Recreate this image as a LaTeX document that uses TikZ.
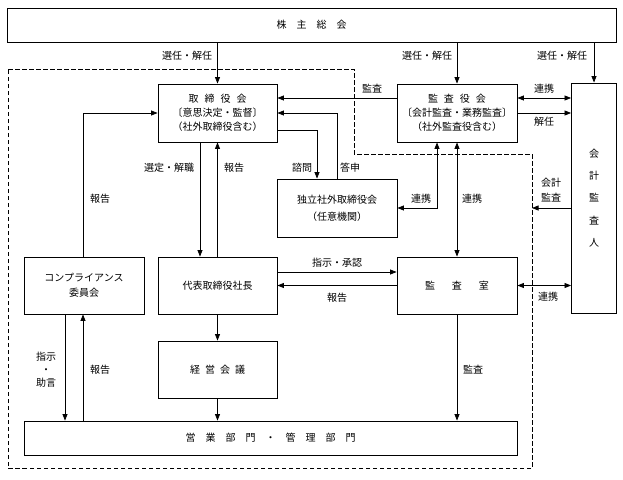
\documentclass[tikz,border=0pt]{standalone}
\usepackage{fontspec}
\setmainfont{Noto Sans CJK JP}
\usetikzlibrary{arrows.meta,calc}
\begin{document}
\begin{tikzpicture}[x=1pt,y=-1pt,
  box/.style={draw, line width=0.9pt, inner sep=0pt, align=center, minimum width=120pt, minimum height=57pt, font=\fontsize{10}{14}\selectfont},
  lbl/.style={inner sep=0pt, align=center, font=\fontsize{10}{13}\selectfont},
  tip/.tip={Triangle[length=6.5pt,width=5pt]},
  arr/.style={line width=0.75pt, -tip},
  darr/.style={line width=0.75pt, tip-tip},
  bound/.style={line width=0.8pt, dash pattern=on 4.5pt off 2.5pt}]
\useasboundingbox (0,0) rectangle (623,479);
% boxes
\node[box, minimum width=609pt, minimum height=34pt] (sh) at (311.5,25) {株\hspace{1em}主\hspace{1em}総\hspace{1em}会};
\node[box, minimum width=119pt, minimum height=58pt] (tb) at (217.5,113) {取\hspace{.6em}締\hspace{.6em}役\hspace{.6em}会\\〔意思決定・監督〕\\（社外取締役含む）};
\node[box, minimum height=58pt] (ka) at (457,113) {監\hspace{.6em}査\hspace{.6em}役\hspace{.6em}会\\〔会計監査・業務監査〕\\（社外監査役含む）};
\node[box, minimum width=45pt, minimum height=230pt, font=\fontsize{10}{22.3}\selectfont] (kk) at (594,198) {会\\計\\監\\査\\人};
\node[box, minimum height=58pt, font=\fontsize{10}{17}\selectfont] (ind) at (337,208) {独立社外取締役会\\（任意機関）};
\node[box, font=\fontsize{10}{15}\selectfont] (cp) at (84,285.5) {コンプライアンス\\委員会};
\node[box, minimum width=119pt] (ceo) at (217.5,285.5) {代表取締役社長};
\node[box] (ks) at (457,285.5) {監\hspace{1.7em}査\hspace{1.7em}室};
\node[box, minimum width=119pt] (km) at (217.5,369.5) {経\hspace{.5em}営\hspace{.5em}会\hspace{.5em}議};
\node[box, minimum width=493pt, minimum height=34pt] (eg) at (270.5,438) {営\hspace{1em}業\hspace{1em}部\hspace{1em}門\hspace{1em}・\hspace{1em}管\hspace{1em}理\hspace{1em}部\hspace{1em}門};
% dashed boundary
\coordinate (d1) at (8,69);
\coordinate (d2) at (354,69);
\coordinate (d3) at (354,154);
\coordinate (d4) at (532,154);
\coordinate (d5) at (532,468);
\coordinate (d6) at (8,468);
\draw[bound] (d1) -- (d2) -- (d3) -- (d4) -- (d5) -- (d6) -- cycle;
% shareholders
\draw[arr] (sh.south -| tb.north) -- (tb.north);
\draw[arr] (sh.south -| ka.north) -- (ka.north);
\draw[arr] (sh.south -| kk.north) -- (kk.north);
\node[lbl] (l1) at (187,56) {選任・解任};
\node[lbl] (l2) at (427,56) {選任・解任};
\node[lbl] (l3) at (562,56) {選任・解任};
% board of auditors
\draw[arr] ([yshift=15pt]ka.west) -- ([yshift=15pt]tb.east);
\node[lbl] (l4) at (372,89) {監査};
\draw[darr] ([yshift=15pt]ka.east) -- ([yshift=15pt]ka.east -| kk.west);
\node[lbl] (l5) at (544,89) {連携};
\draw[arr] (ka.east) -- (ka.east -| kk.west);
\node[lbl] (l6) at (544,122) {解任};
% independent outside directors
\draw[arr] ([yshift=-17pt]tb.east) -| ([xshift=-20pt]ind.north);
\node[lbl] (l7) at (302,168) {諮問};
\draw[arr] (ind.north) |- (tb.east);
\node[lbl] (l8) at (350,168) {答申};
\draw[darr] ([xshift=-20pt]ka.south) |- (ind.east);
\node[lbl] (l9) at (421,199) {連携};
\draw[darr] (ka.south) -- (ks.north);
\node[lbl] (l10) at (472,199) {連携};
% accounting auditor
\draw[arr] ([yshift=-10pt]kk.west) -- ([yshift=-10pt]kk.west -| d4);
\node[lbl, font=\fontsize{10}{15}\selectfont] (l11) at (551,190) {会計\\監査};
\draw[darr] (ks.east) -- (ks.east -| kk.west);
\node[lbl] (l12) at (548,297) {連携};
% compliance
\draw[arr] ([xshift=-1pt]cp.north) |- (tb.west);
\node[lbl] (l13) at (100,199) {報告};
% board - president
\draw[arr] ([xshift=-17.5pt]tb.south) -- ([xshift=-17.5pt]tb.south |- ceo.north);
\node[lbl] (l14) at (169,168) {選定・解職};
\draw[arr] (ceo.north) -- (tb.south);
\node[lbl] (l15) at (234,168) {報告};
% president - audit office
\draw[arr] ([yshift=13.5pt]ceo.east) -- ([yshift=13.5pt]ks.west);
\node[lbl] (l16) at (337,263) {指示・承認};
\draw[arr] (ks.west) -- (ceo.east);
\node[lbl] (l17) at (337,298) {報告};
% lower part
\draw[arr] ([xshift=-19pt]cp.south) -- ([xshift=-19pt]cp.south |- eg.north);
\node[lbl] (l18) at (46,370) {指示\\・\\助言};
\draw[arr] ([xshift=-1pt]cp.south |- eg.north) -- ([xshift=-1pt]cp.south);
\node[lbl] (l19) at (100,370) {報告};
\draw[arr] (ceo.south) -- (km.north);
\draw[arr] (km.south) -- (km.south |- eg.north);
\draw[arr] (ks.south) -- (ks.south |- eg.north);
\node[lbl] (l20) at (473,370) {監査};
\end{tikzpicture}
\end{document}
